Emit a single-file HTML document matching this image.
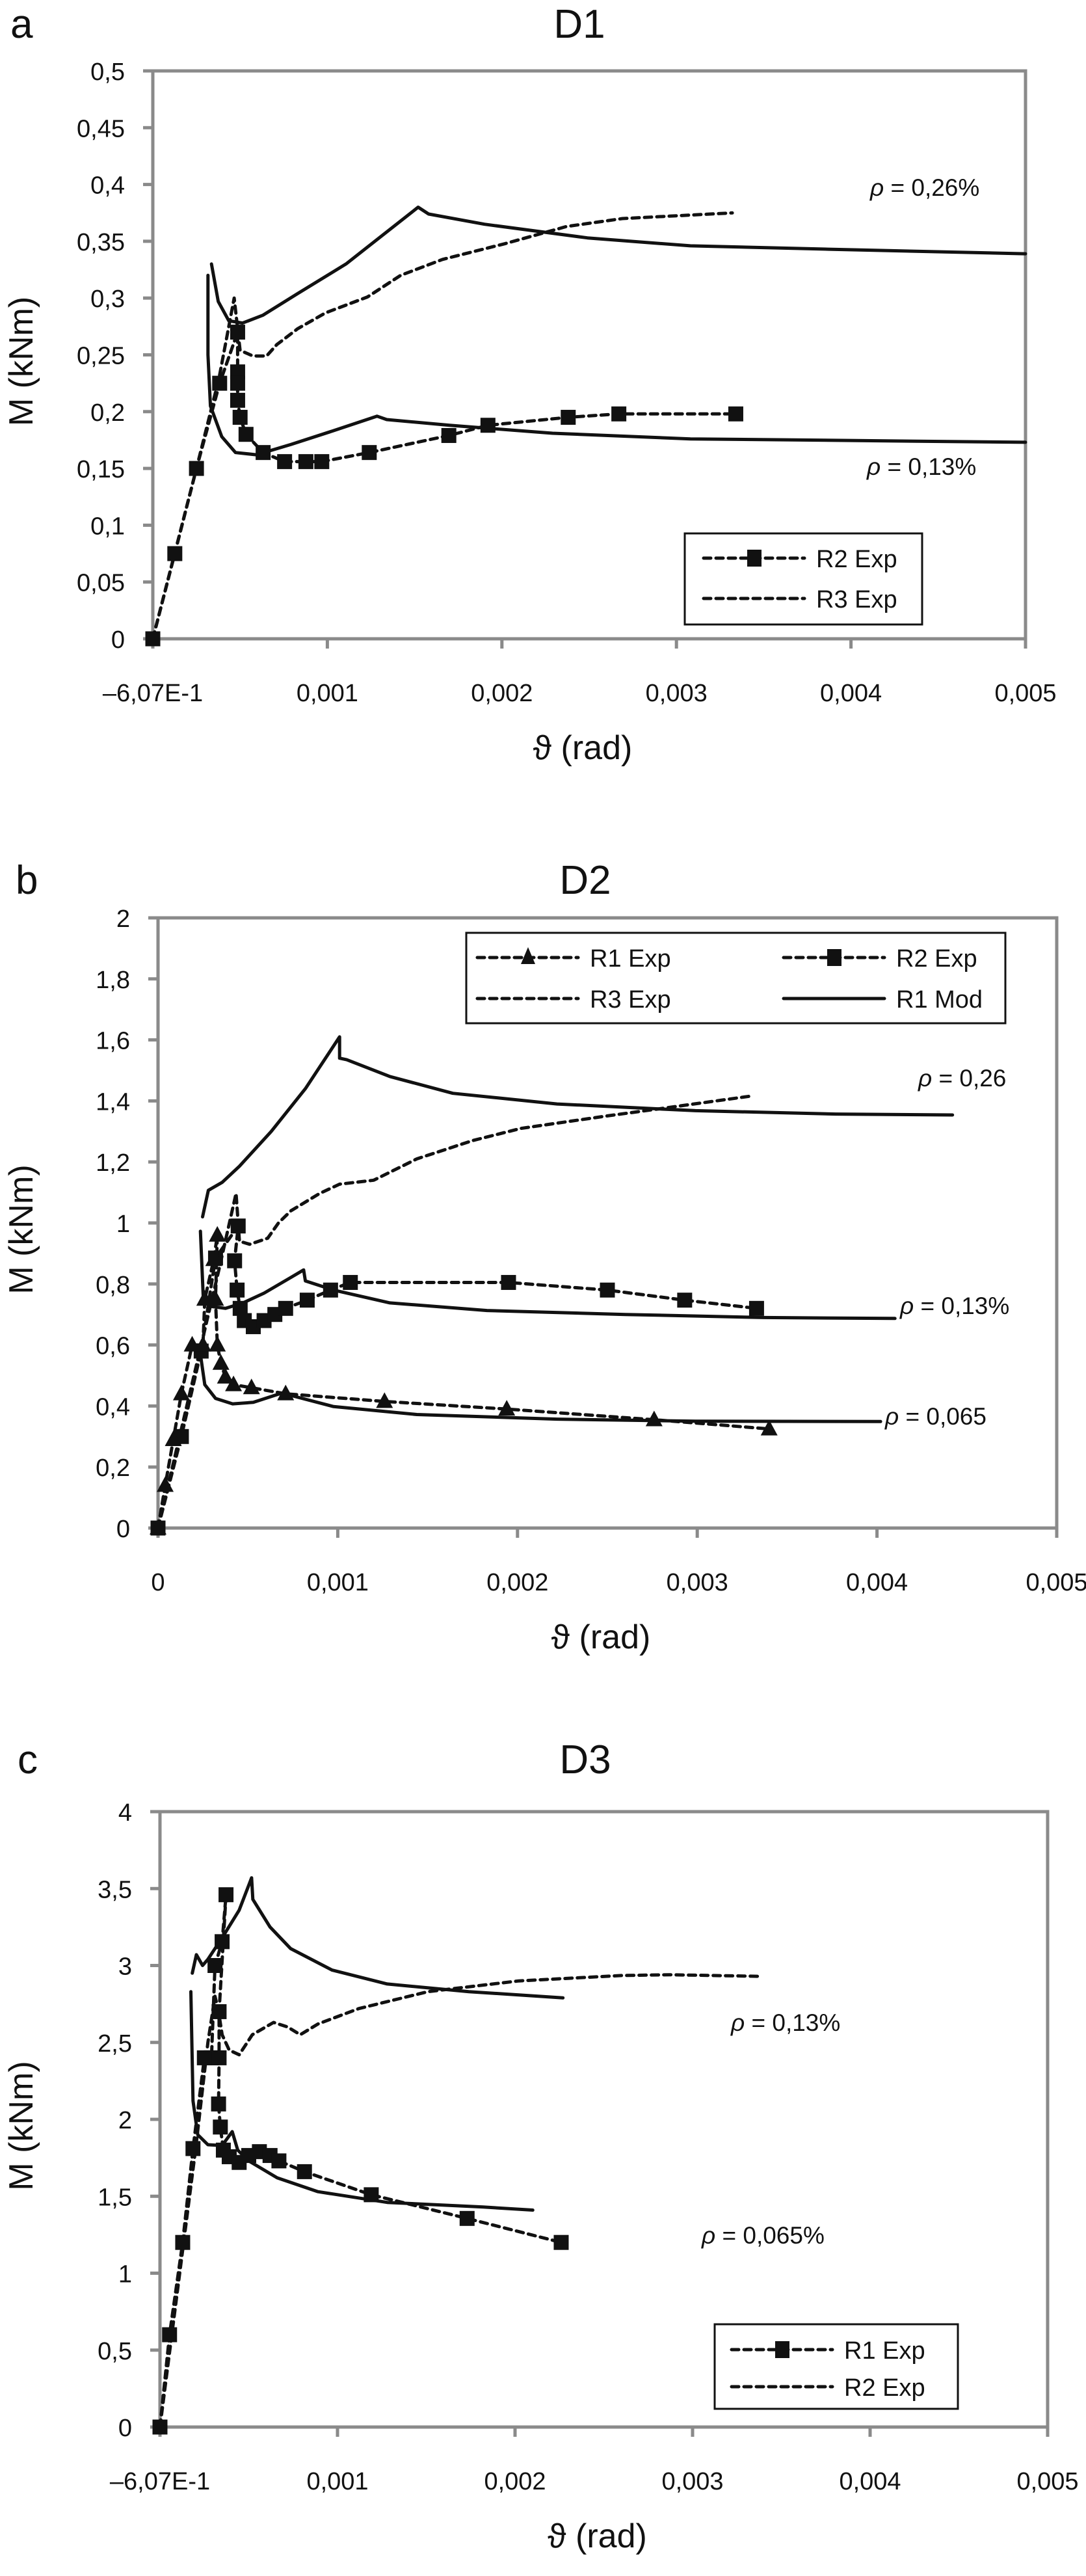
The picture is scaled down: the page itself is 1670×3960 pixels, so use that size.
<!DOCTYPE html>
<html><head><meta charset="utf-8"><style>
html,body{margin:0;padding:0;background:#fff;}
svg{display:block;font-family:"Liberation Sans",sans-serif;}
</style></head><body>
<svg id="fig" width="1670" height="3960" viewBox="0 0 1670 3960" xmlns="http://www.w3.org/2000/svg">
<g id="pa"></g>
<g id="pb"></g>
<g id="pc"></g>
</svg>
<script>
// ---------- Chart a (D1) data ----------
const aYTicks=[0,0.05,0.1,0.15,0.2,0.25,0.3,0.35,0.4,0.45,0.5];
const aYTickLabels=["0","0,05","0,1","0,15","0,2","0,25","0,3","0,35","0,4","0,45","0,5"];
const aXTicks=[0,0.001,0.002,0.003,0.004,0.005];
const aXTickLabels=["\u20136,07E-1","0,001","0,002","0,003","0,004","0,005"];
const aR2x=[0,0.000126,0.00025,0.000383,0.000486,0.000486,0.000486,0.000486,0.0005,0.000534,0.000632,0.000755,0.000877,0.000968,0.00124,0.001696,0.00192,0.00238,0.00267,0.00334];
const aR2y=[0,0.075,0.15,0.225,0.27,0.235,0.225,0.21,0.195,0.18,0.164,0.156,0.156,0.156,0.164,0.179,0.188,0.195,0.198,0.198];
const aR3x=[0,0.00025,0.00038,0.000466,0.0005,0.000573,0.000652,0.00071,0.00083,0.00099,0.00123,0.00142,0.00166,0.00202,0.00237,0.00269,0.00332];
const aR3y=[0,0.15,0.23,0.30,0.254,0.249,0.249,0.259,0.273,0.287,0.301,0.32,0.334,0.348,0.363,0.37,0.375];
const aM1x=[0.000336,0.000375,0.000435,0.000514,0.000632,0.00083,0.001107,0.00152,0.00158,0.0019,0.00249,0.00308,0.00387,0.005];
const aM1y=[0.33,0.297,0.28,0.278,0.285,0.304,0.33,0.38,0.374,0.365,0.353,0.346,0.343,0.339];
const aM2x=[0.000316,0.000316,0.00033,0.000395,0.000474,0.000593,0.00079,0.00103,0.001285,0.00134,0.0017,0.00229,0.00308,0.005];
const aM2y=[0.32,0.25,0.205,0.178,0.164,0.162,0.171,0.183,0.196,0.193,0.188,0.181,0.176,0.173];

// ---------- Chart b (D2) data ----------
const bYTicks=[0,0.2,0.4,0.6,0.8,1,1.2,1.4,1.6,1.8,2];
const bYTickLabels=["0","0,2","0,4","0,6","0,8","1","1,2","1,4","1,6","1,8","2"];
const bXTicks=[0,0.001,0.002,0.003,0.004,0.005];
const bXTickLabels=["0","0,001","0,002","0,003","0,004","0,005"];
const bR1x=[0,0.00004,0.000085,0.00013,0.00019,0.00025,0.00026,0.00031,0.00033,0.00032,0.00033,0.00035,0.000375,0.00042,0.00052,0.00071,0.00126,0.00194,0.00276,0.0034];
const bR1y=[0,0.14,0.29,0.44,0.6,0.6,0.75,0.88,0.96,0.75,0.6,0.54,0.495,0.47,0.46,0.44,0.415,0.39,0.355,0.325];
const bR2x=[0,0.00013,0.00024,0.00032,0.000446,0.000426,0.00044,0.000457,0.00048,0.00053,0.00059,0.00065,0.00071,0.00083,0.00096,0.00107,0.00195,0.0025,0.00293,0.00333];
const bR2y=[0,0.3,0.58,0.885,0.99,0.876,0.78,0.72,0.68,0.66,0.68,0.7,0.72,0.747,0.78,0.805,0.805,0.78,0.747,0.72];
const bR3x=[0,0.0002,0.00034,0.000434,0.000453,0.00051,0.00061,0.00067,0.00074,0.0009,0.00101,0.0012,0.00144,0.00175,0.00202,0.00249,0.0028,0.0033];
const bR3y=[0,0.5,0.85,1.097,0.94,0.93,0.95,1.0,1.04,1.097,1.127,1.14,1.21,1.27,1.31,1.35,1.375,1.416];
const bM1x=[0.000248,0.00028,0.000357,0.000453,0.00063,0.00082,0.00101,0.00101,0.00105,0.00129,0.00164,0.00222,0.00299,0.00377,0.00442];
const bM1y=[1.02,1.107,1.133,1.186,1.3,1.44,1.61,1.54,1.535,1.48,1.425,1.39,1.368,1.357,1.354];
const bM2x=[0.000236,0.000252,0.0003,0.000376,0.000473,0.00059,0.000744,0.00081,0.00082,0.000977,0.00129,0.00183,0.0026,0.00337,0.0041];
const bM2y=[0.973,0.75,0.726,0.72,0.738,0.77,0.823,0.846,0.81,0.78,0.738,0.713,0.7,0.69,0.687];
const bM3x=[0.00023,0.00026,0.00032,0.000415,0.00053,0.000686,0.000744,0.000977,0.00144,0.00222,0.00299,0.00402];
const bM3y=[0.593,0.47,0.425,0.407,0.412,0.442,0.434,0.398,0.372,0.357,0.35,0.349];

// ---------- Chart c (D3) data ----------
const cYTicks=[0,0.5,1,1.5,2,2.5,3,3.5,4];
const cYTickLabels=["0","0,5","1","1,5","2","2,5","3","3,5","4"];
const cXTicks=[0,0.001,0.002,0.003,0.004,0.005];
const cXTickLabels=["\u20136,07E-1","0,001","0,002","0,003","0,004","0,005"];
const cR1x=[0,0.000054,0.000128,0.000186,0.00025,0.00029,0.00031,0.00035,0.000372,0.000333,0.000333,0.00033,0.00034,0.000357,0.00039,0.000446,0.0005,0.00056,0.00062,0.00067,0.000814,0.00119,0.00173,0.00226];
const cR1y=[0,0.6,1.2,1.81,2.4,2.4,3.0,3.155,3.46,2.7,2.4,2.1,1.95,1.8,1.757,1.72,1.765,1.79,1.765,1.73,1.66,1.51,1.356,1.2];
const cR2x=[0,0.0001,0.0002,0.00027,0.00031,0.00033,0.00035,0.00039,0.000446,0.00052,0.00064,0.00072,0.00079,0.00089,0.00112,0.00151,0.00202,0.0026,0.00287,0.00337];
const cR2y=[0,0.9,1.8,2.5,2.8,2.7,2.55,2.45,2.42,2.55,2.63,2.6,2.55,2.62,2.72,2.83,2.9,2.935,2.94,2.93];
const cM1x=[0.000182,0.000205,0.00024,0.00027,0.00035,0.000446,0.000516,0.000523,0.00062,0.000736,0.00097,0.00128,0.00174,0.00227];
const cM1y=[2.95,3.07,3.0,3.04,3.18,3.36,3.57,3.43,3.25,3.11,2.97,2.88,2.83,2.79];
const cM2x=[0.000174,0.000186,0.000213,0.00027,0.00035,0.000407,0.000438,0.0005,0.00066,0.00089,0.00128,0.00182,0.0021];
const cM2y=[2.83,2.12,1.9,1.835,1.83,1.92,1.8,1.73,1.62,1.53,1.46,1.43,1.41];

const NS="http://www.w3.org/2000/svg";
function mk(parent,tag,attrs,text){const e=document.createElementNS(NS,tag);for(const k in attrs)e.setAttribute(k,attrs[k]);if(text!==undefined)e.textContent=text;parent.appendChild(e);return e;}

function drawChart(g,L,yTicks,yLabels,xTicks,xLabels,series,legend,rhos,letter,title){
  const sx=v=>L.left+(v-0)/(L.xmax)*(L.right-L.left);
  const sy=v=>L.bottom-(v-0)/(L.ymax)*(L.bottom-L.top);
  let t=mk(g,'text',{x:L.left-219,y:L.titleY,'font-size':62,fill:'#111'},letter);
  
  
  t=mk(g,'text',{x:L.titleX,y:L.titleY,'font-size':62,'text-anchor':'middle',fill:'#111'},title);
  
  
  // frame
  const fr=mk(g,'rect',{x:L.left,y:L.top,width:L.right-L.left,height:L.bottom-L.top,fill:'none',stroke:'#8a8a8a','stroke-width':5});
  
  
  yTicks.forEach((v,i)=>{
    const y=sy(v);
    const tk=mk(g,'line',{x1:L.left-15,x2:L.left,y1:y,y2:y,stroke:'#8a8a8a','stroke-width':5});
    
    
    const lb=mk(g,'text',{x:L.left-43,y:y+14,'font-size':38,'text-anchor':'end',fill:'#111'},yLabels[i]);
    
    
  });
  xTicks.forEach((v,i)=>{
    const x=sx(v);
    const tk=mk(g,'line',{x1:x,x2:x,y1:L.bottom,y2:L.bottom+15,stroke:'#8a8a8a','stroke-width':5});
    
    
    const lb=mk(g,'text',{x:x,y:L.bottom+96,'font-size':38,'text-anchor':'middle',fill:'#111'},xLabels[i]);
    
    
  });
  t=mk(g,'text',{x:(L.left+L.right)/2-10,y:L.bottom+185,'font-size':52,'text-anchor':'middle',fill:'#111'},'\u03d1 (rad)');
  
  
  const cy=(L.top+L.bottom)/2+10;
  t=mk(g,'text',{x:0,y:0,'font-size':52,'text-anchor':'middle',fill:'#111',transform:`translate(50,${cy}) rotate(-90)`},'M (kNm)');
  
  
  series.forEach(s=>{
    const pts=s.x.map((v,i)=>sx(v).toFixed(1)+','+sy(s.y[i]).toFixed(1)).join(' ');
    const pl=mk(g,'polyline',{points:pts,fill:'none',stroke:'#111','stroke-width':5,'stroke-linejoin':'round','stroke-linecap':'round'});
    if(s.dash)pl.setAttribute('stroke-dasharray','11 8');
    
    
    if(s.marker){
      s.x.forEach((v,i)=>{
        const x=sx(v),y=sy(s.y[i]);
        let m;
        if(s.marker==='sq')m=mk(g,'rect',{x:x-11.5,y:y-11.5,width:23,height:23,fill:'#111'});
        else m=mk(g,'polygon',{points:`${x},${y-14} ${x-13},${y+10} ${x+13},${y+10}`,fill:'#111'});
        
        
      });
    }
  });
  const lg=mk(g,'g',{});
  
  
  mk(lg,'rect',{x:legend.x,y:legend.y,width:legend.w,height:legend.h,fill:'#fff',stroke:'#111','stroke-width':3});
  legend.items.forEach(it=>{
    const e=mk(lg,'g',{});
    
    
    const ln=mk(e,'line',{x1:it.x,x2:it.x+155,y1:it.y,y2:it.y,stroke:'#111','stroke-width':5,'stroke-linecap':'round'});
    if(it.dash)ln.setAttribute('stroke-dasharray','11 8');
    const mx=it.x+78;
    if(it.marker==='sq')mk(e,'rect',{x:mx-11,y:it.y-13,width:22,height:26,fill:'#111'});
    if(it.marker==='tri')mk(e,'polygon',{points:`${mx},${it.y-16} ${mx-11},${it.y+10} ${mx+11},${it.y+10}`,fill:'#111'});
    mk(e,'text',{x:it.x+173,y:it.y+14,'font-size':38,fill:'#111'},it.label);
  });
  rhos.forEach(r=>{
    const tx=mk(g,'text',{x:r.x,y:r.y,'font-size':37,fill:'#111'});
    
    
    mk(tx,'tspan',{'font-style':'italic'},'\u03c1');
    mk(tx,'tspan',{},' = '+r.t);
  });
}

drawChart(document.getElementById('pa'),
  {left:235,right:1577,top:109,bottom:982,xmax:0.005,ymax:0.5,titleX:891,titleY:58},
  aYTicks,aYTickLabels,aXTicks,aXTickLabels,
  [{x:aR3x,y:aR3y,dash:true,name:'r3-exp-line'},
   {x:aM1x,y:aM1y,dash:false,name:'model-upper-line'},
   {x:aM2x,y:aM2y,dash:false,name:'model-lower-line'},
   {x:aR2x,y:aR2y,dash:true,marker:'sq',name:'r2-exp-line'}],
  {x:1053,y:820,w:365,h:140,items:[{x:1082,y:858,dash:true,marker:'sq',label:'R2 Exp'},{x:1082,y:920,dash:true,label:'R3 Exp'}]},
  [{x:1338,y:301,t:'0,26%'},{x:1333,y:730,t:'0,13%'}],'a','D1');

drawChart(document.getElementById('pb'),
  {left:243,right:1625,top:1411,bottom:2349,xmax:0.005,ymax:2,titleX:900,titleY:1374},
  bYTicks,bYTickLabels,bXTicks,bXTickLabels,
  [{x:bR3x,y:bR3y,dash:true,name:'r3-exp-line'},
   {x:bM1x,y:bM1y,dash:false,name:'r1-mod-upper-line'},
   {x:bM2x,y:bM2y,dash:false,name:'r1-mod-middle-line'},
   {x:bM3x,y:bM3y,dash:false,name:'r1-mod-lower-line'},
   {x:bR2x,y:bR2y,dash:true,marker:'sq',name:'r2-exp-line'},
   {x:bR1x,y:bR1y,dash:true,marker:'tri',name:'r1-exp-line'}],
  {x:717,y:1434,w:829,h:139,items:[{x:734,y:1472,dash:true,marker:'tri',label:'R1 Exp'},{x:1205,y:1472,dash:true,marker:'sq',label:'R2 Exp'},{x:734,y:1535,dash:true,label:'R3 Exp'},{x:1205,y:1535,dash:false,label:'R1 Mod'}]},
  [{x:1412,y:1670,t:'0,26'},{x:1384,y:2020,t:'0,13%'},{x:1361,y:2190,t:'0,065'}],'b','D2');

drawChart(document.getElementById('pc'),
  {left:246,right:1611,top:2785,bottom:3731,xmax:0.005,ymax:4,titleX:900,titleY:2726},
  cYTicks,cYTickLabels,cXTicks,cXTickLabels,
  [{x:cR2x,y:cR2y,dash:true,name:'r2-exp-line'},
   {x:cM1x,y:cM1y,dash:false,name:'model-upper-line'},
   {x:cM2x,y:cM2y,dash:false,name:'model-lower-line'},
   {x:cR1x,y:cR1y,dash:true,marker:'sq',name:'r1-exp-line'}],
  {x:1099,y:3573,w:374,h:130,items:[{x:1125,y:3612,dash:true,marker:'sq',label:'R1 Exp'},{x:1125,y:3669,dash:true,label:'R2 Exp'}]},
  [{x:1124,y:3122,t:'0,13%'},{x:1079,y:3449,t:'0,065%'}],'c','D3');
</script>
</body></html>
